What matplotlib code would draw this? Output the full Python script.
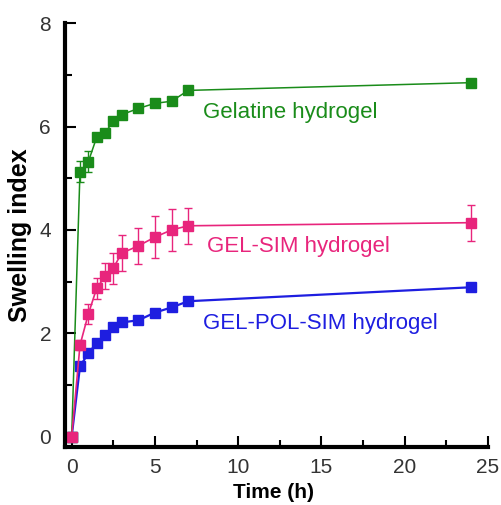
import matplotlib
matplotlib.use('Agg')
import matplotlib.pyplot as plt
from matplotlib.ticker import MultipleLocator

plt.rcParams['font.family'] = ['Liberation Sans', 'DejaVu Sans']

# time points (h)
time = [0, 0.5, 1, 1.5, 2, 2.5, 3, 4, 5, 6, 7, 24]

gelatine = [0, 5.13, 5.32, 5.79, 5.88, 6.10, 6.23, 6.35, 6.45, 6.49, 6.70, 6.85]
gelatine_err = [0, 0.2, 0.2, 0.05, 0.05, 0.05, 0.05, 0.05, 0.05, 0.05, 0.05, 0.05]

gel_sim = [0, 1.77, 2.37, 2.87, 3.10, 3.26, 3.55, 3.69, 3.86, 4.00, 4.08, 4.14]
gel_sim_err = [0, 0.1, 0.2, 0.2, 0.25, 0.3, 0.35, 0.35, 0.4, 0.4, 0.35, 0.35]

gel_pol_sim = [0, 1.36, 1.61, 1.81, 1.96, 2.12, 2.21, 2.25, 2.40, 2.50, 2.62, 2.89]

green = '#1a8c1a'
pink = '#e8257c'
blue = '#1e1ee0'

fig = plt.figure(figsize=(5.02, 5.05), dpi=100)
ax = fig.add_axes([0.1295, 0.115, 0.8425, 0.839])

ax.errorbar(time, gelatine, yerr=gelatine_err, color=green, marker='s', markersize=7,
            linewidth=1.1, capsize=3, elinewidth=1)
ax.errorbar(time, gel_sim, yerr=gel_sim_err, color=pink, marker='s', markersize=7,
            linewidth=1.2, capsize=3, elinewidth=1)
ax.plot(time, gel_pol_sim, color=blue, marker='s', markersize=7, linewidth=1.6)

ax.text(7.9, 6.27, 'Gelatine hydrogel', color=green, fontsize=16, va='center')
ax.text(8.1, 3.67, 'GEL-SIM hydrogel', color=pink, fontsize=16, va='center')
ax.text(7.9, 2.19, 'GEL-POL-SIM hydrogel', color=blue, fontsize=16, va='center')

ax.set_xlim(-0.4, 25)
ax.set_ylim(-0.2, 8)
ax.xaxis.set_major_locator(MultipleLocator(5))
ax.xaxis.set_minor_locator(MultipleLocator(2.5))
ax.yaxis.set_major_locator(MultipleLocator(2))
ax.yaxis.set_minor_locator(MultipleLocator(1))
ax.tick_params(which='major', direction='in', length=8, width=1.5, labelsize=15,
               labelcolor='#333333')
ax.tick_params(axis='y', which='major', pad=10)
ax.tick_params(axis='x', which='major', pad=8)
ax.tick_params(which='minor', direction='in', length=5, width=1.5)
ax.spines['top'].set_visible(False)
ax.spines['right'].set_visible(False)
ax.spines['left'].set_linewidth(3)
ax.spines['bottom'].set_linewidth(3)

ax.set_xlabel('Time (h)', fontsize=15, fontweight='bold')
ax.set_ylabel('Swelling index', fontsize=18, fontweight='bold')
ax.xaxis.set_label_coords(0.494, -0.085)
ax.yaxis.set_label_coords(-0.078, 0.5)

fig.savefig('out.png', dpi=100)
